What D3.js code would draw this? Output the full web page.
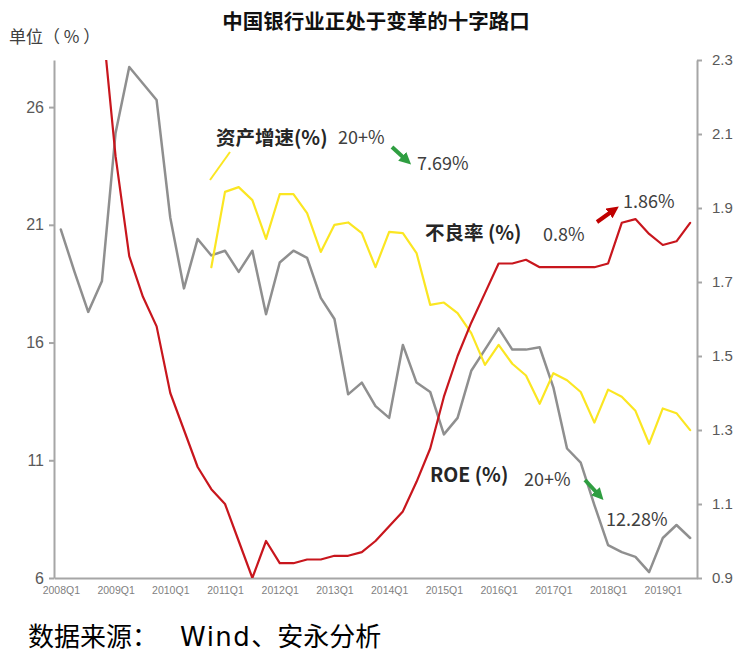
<!DOCTYPE html>
<meta charset="utf-8">
<style>
body {
  margin: 0;
  background: #fff;
  font-family: "Noto Sans CJK SC", sans-serif;
}
.line {
  fill: none;
  stroke-linejoin: round;
  stroke-linecap: round;
}
.axis path, .axis line {
  stroke: #a6a6a6;
  stroke-width: 2px;
}
.axis text {
  font-family: "Liberation Sans", Arial, sans-serif;
  fill: #595959;
}
.note {
  font-family: "Noto Sans CJK SC", sans-serif;
  font-size: 18px;
  fill: #404040;
}
.note-bold {
  font-family: "Noto Sans CJK SC", sans-serif;
  font-size: 19.5px;
  font-weight: bold;
  fill: #262626;
}
</style>
<body>
<svg width="754" height="653"></svg>
<script src="https://cdn.jsdelivr.net/npm/d3@7/dist/d3.min.js"></script>
<script>
// quarters 2008Q1 - 2019Q3
var quarters = [
  "2008Q1","2008Q2","2008Q3","2008Q4","2009Q1","2009Q2","2009Q3","2009Q4",
  "2010Q1","2010Q2","2010Q3","2010Q4","2011Q1","2011Q2","2011Q3","2011Q4",
  "2012Q1","2012Q2","2012Q3","2012Q4","2013Q1","2013Q2","2013Q3","2013Q4",
  "2014Q1","2014Q2","2014Q3","2014Q4","2015Q1","2015Q2","2015Q3","2015Q4",
  "2016Q1","2016Q2","2016Q3","2016Q4","2017Q1","2017Q2","2017Q3","2017Q4",
  "2018Q1","2018Q2","2018Q3","2018Q4","2019Q1","2019Q2","2019Q3"
];
var xTickLabels = ["2008Q1","2009Q1","2010Q1","2011Q1","2012Q1","2013Q1",
  "2014Q1","2015Q1","2016Q1","2017Q1","2018Q1","2019Q1"];

// ROE (%), left axis
var roe = [
  20.8, 19.0, 17.3, 18.6, 24.9, 27.7, 27.0, 26.3,
  21.3, 18.3, 20.4, 19.7, 19.9, 19.0, 19.9, 17.2,
  19.4, 19.9, 19.6, 17.9, 17.0, 13.8, 14.3, 13.3,
  12.8, 15.9, 14.3, 13.9, 12.1, 12.8, 14.8, 15.7,
  16.6, 15.7, 15.7, 15.8, 14.1, 11.5, 10.9, 9.1,
  7.4, 7.1, 6.9, 6.25, 7.7, 8.25, 7.7
];

// 资产增速 (%), left axis
var assetGrowth = [
  null, null, null, null, null, null, null, null,
  null, null, null, 19.2, 22.4, 22.6, 22.05, 20.4,
  22.3, 22.3, 21.5, 19.85, 21.0, 21.1, 20.65, 19.2,
  20.7, 20.65, 19.8, 17.6, 17.7, 17.25, 16.4, 15.05,
  15.9, 15.1, 14.6, 13.4, 14.7, 14.4, 13.9, 12.6,
  14.0, 13.7, 13.1, 11.7, 13.2, 13.0, 12.28
];

// 不良率 (%), right axis
var nplRatio = [
  null, null, null, 2.42, 2.04, 1.77, 1.66, 1.58,
  1.40, 1.30, 1.20, 1.14, 1.10, 1.00, 0.90, 1.00,
  0.94, 0.94, 0.95, 0.95, 0.96, 0.96, 0.97, 1.00,
  1.04, 1.08, 1.16, 1.25, 1.39, 1.50, 1.59, 1.67,
  1.75, 1.75, 1.76, 1.74, 1.74, 1.74, 1.74, 1.74,
  1.75, 1.86, 1.87, 1.83, 1.80, 1.81, 1.86
];

var leftTicks = [6, 11, 16, 21, 26];
var rightTicks = [0.9, 1.1, 1.3, 1.5, 1.7, 1.9, 2.1, 2.3];

var svg = d3.select("svg"),
    plot = {left: 54, right: 697, top: 60, bottom: 578};

var x = d3.scalePoint().domain(quarters).range([plot.left, plot.right]).padding(0.5),
    yL = d3.scaleLinear().domain([6, 28]).range([plot.bottom, plot.top]),
    yR = d3.scaleLinear().domain([0.9, 2.3]).range([plot.bottom, plot.top]);

var defs = svg.append("defs");
defs.append("clipPath").attr("id", "clip")
  .append("rect")
    .attr("x", plot.left).attr("y", plot.top)
    .attr("width", plot.right - plot.left).attr("height", plot.bottom - plot.top);

// arrow heads
[["green", "#2f9e41"], ["red", "#c00000"]].forEach(function(m) {
  defs.append("marker")
      .attr("id", "arrow-" + m[0])
      .attr("viewBox", "0 0 10 10")
      .attr("refX", 2).attr("refY", 5)
      .attr("markerUnits", "userSpaceOnUse")
      .attr("markerWidth", 12).attr("markerHeight", 12)
      .attr("orient", "auto")
    .append("path")
      .attr("d", "M0,0L10,5L0,10z")
      .attr("fill", m[1]);
});

// axes
svg.append("g")
    .attr("class", "axis axis--x")
    .attr("transform", "translate(0," + plot.bottom + ")")
    .call(d3.axisBottom(x).tickValues(xTickLabels).tickSize(0).tickSizeOuter(0).tickPadding(9))
  .selectAll("text")
    .style("font-size", "10.5px")
    .style("fill", "#7f7f7f");

svg.append("g")
    .attr("class", "axis axis--left")
    .attr("transform", "translate(" + plot.left + ",0)")
    .call(d3.axisLeft(yL).tickValues(leftTicks).tickSize(5).tickSizeOuter(0).tickPadding(5))
  .selectAll("text")
    .style("font-size", "16px");

svg.append("g")
    .attr("class", "axis axis--right")
    .attr("transform", "translate(" + plot.right + ",0)")
    .call(d3.axisRight(yR).tickValues(rightTicks).tickFormat(d3.format(".1f")).tickSize(5).tickSizeOuter(0).tickPadding(10))
  .selectAll("text")
    .style("font-size", "15px");

// lines
function lineOn(scale) {
  return d3.line()
    .defined(function(d) { return d != null; })
    .x(function(d, i) { return x(quarters[i]); })
    .y(function(d) { return scale(d); });
}

var lines = svg.append("g").attr("clip-path", "url(#clip)");

lines.append("path")
    .attr("class", "line")
    .attr("d", lineOn(yL)(roe))
    .style("stroke", "#8f8f8f")
    .style("stroke-width", 2.5);

lines.append("path")
    .attr("class", "line")
    .attr("d", lineOn(yL)(assetGrowth))
    .style("stroke", "#fbe622")
    .style("stroke-width", 2.2);

lines.append("path")
    .attr("class", "line")
    .attr("d", lineOn(yR)(nplRatio))
    .style("stroke", "#c8161d")
    .style("stroke-width", 2.2);

// titles
svg.append("text")
    .attr("x", 376).attr("y", 29)
    .attr("text-anchor", "middle")
    .style("font-size", "20.5px")
    .style("font-weight", "bold")
    .style("fill", "#111")
    .text("中国银行业正处于变革的十字路口");

svg.append("text")
    .attr("x", 9).attr("y", 43)
    .style("font-size", "17px")
    .style("fill", "#404040")
    .text("单位（ % ）");

var source = svg.append("text")
    .attr("y", 646)
    .style("font-size", "26px")
    .style("fill", "#000");
source.append("tspan").attr("x", 28).text("数据来源：");
source.append("tspan").attr("x", 180)
    .style("font-family", "'DejaVu Sans', sans-serif")
    .style("letter-spacing", "1.5px")
    .text("Wind");
source.append("tspan").text("、安永分析");

// annotations
var ann = svg.append("g");

ann.append("line")
    .attr("x1", 210).attr("y1", 180).attr("x2", 230).attr("y2", 152)
    .style("stroke", "#fbe622").style("stroke-width", 2);

ann.append("text").attr("class", "note-bold").attr("x", 216).attr("y", 145).text("资产增速(%)");
ann.append("text").attr("class", "note").attr("x", 338).attr("y", 144).text("20+%");
ann.append("line")
    .attr("x1", 392).attr("y1", 147).attr("x2", 404).attr("y2", 158)
    .attr("marker-end", "url(#arrow-green)")
    .style("stroke", "#2f9e41").style("stroke-width", 4);
ann.append("text").attr("class", "note").attr("x", 417).attr("y", 170).text("7.69%");

ann.append("text").attr("class", "note-bold").attr("x", 425).attr("y", 240).text("不良率 (%)");
ann.append("text").attr("class", "note").attr("x", 543).attr("y", 241).text("0.8%");
ann.append("line")
    .attr("x1", 597).attr("y1", 222).attr("x2", 611).attr("y2", 212)
    .attr("marker-end", "url(#arrow-red)")
    .style("stroke", "#c00000").style("stroke-width", 4);
ann.append("text").attr("class", "note").attr("x", 623).attr("y", 208).text("1.86%");

ann.append("text").attr("class", "note-bold").attr("x", 430).attr("y", 482).text("ROE (%)");
ann.append("text").attr("class", "note").attr("x", 524).attr("y", 486).text("20+%");
ann.append("line")
    .attr("x1", 585).attr("y1", 480).attr("x2", 597).attr("y2", 493)
    .attr("marker-end", "url(#arrow-green)")
    .style("stroke", "#2f9e41").style("stroke-width", 4);
ann.append("text").attr("class", "note").attr("x", 606).attr("y", 526).text("12.28%");
</script>
</body>
